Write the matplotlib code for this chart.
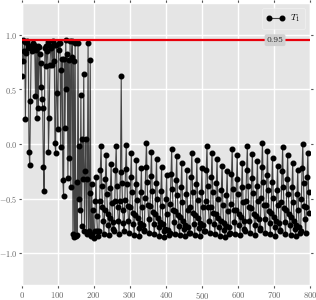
import numpy as np
import matplotlib
matplotlib.use("Agg")
import matplotlib.pyplot as plt
from matplotlib.ticker import FuncFormatter

# ---- data ----
early_values = [
    0.62, 0.95, 0.76, 0.85, 0.93, 0.23, 0.83, 0.94, 0.88, 0.91,
    -0.07, -0.19, 0.39, 0.89, 0.85, 0.92, 0.90, 0.91, 0.87, 0.44,
    0.86, 0.24, 0.90, 0.33, 0.89, 0.82, 0.52, 0.74, 0.41, 0.33,
    -0.21, -0.43, 0.88, 0.90, 0.71, 0.85, 0.93, -0.07, 0.24, 0.72,
    0.88, 0.90, 0.72, 0.94, 0.76, 0.91, 0.01, -0.08, 0.91, 0.47,
    0.14, 0.92, 0.86, 0.92, -0.03, 0.68, 0.78, -0.33, -0.48, 0.78,
    0.15, 0.95, 0.50, 0.82, -0.31, 0.77, -0.13, 0.94, -0.39, 0.80,
    0.94, -0.82, 0.76, -0.85, 0.92, -0.84, -0.35, -0.83, 0.92, -0.50,
    -0.015, -0.60, 0.45, -0.75, 0.05, -0.32, 0.64, -0.80, -0.25, 0.05,
    -0.82, -0.32, 0.92, -0.80, -0.45, 0.77, -0.84, -0.37, -0.82, -0.60,
]

late_values = [
    -0.86, -0.80, -0.52, -0.30, -0.66, -0.80, -0.84,
    -0.80, -0.52, -0.24, -0.02, -0.38, -0.58, -0.70,
    -0.82, -0.60, -0.32, -0.10, -0.46, -0.64, -0.74,
    -0.83, -0.68, -0.40, -0.18, -0.54, -0.71, -0.78,
    -0.80, -0.52, -0.24, -0.02, -0.38, -0.58, -0.70,
    -0.82, -0.52, -0.26, 0.62, -0.36, -0.60, -0.72,
    -0.80, -0.51, -0.23, -0.01, -0.37, -0.57, -0.70,
    -0.81, -0.58, -0.30, -0.08, -0.44, -0.63, -0.73,
    -0.83, -0.65, -0.37, -0.15, -0.51, -0.68, -0.77,
    -0.84, -0.72, -0.44, -0.22, -0.58, -0.74, -0.80,
    -0.79, -0.49, -0.21, 0.01, -0.35, -0.56, -0.69,
    -0.81, -0.57, -0.29, -0.07, -0.43, -0.62, -0.73,
    -0.82, -0.64, -0.36, -0.14, -0.50, -0.68, -0.76,
    -0.84, -0.71, -0.43, -0.21, -0.57, -0.73, -0.80,
    -0.85, -0.78, -0.50, -0.28, -0.64, -0.79, -0.83,
    -0.81, -0.55, -0.27, -0.045, -0.41, -0.60, -0.71,
    -0.82, -0.61, -0.33, -0.11, -0.47, -0.65, -0.75,
    -0.83, -0.67, -0.39, -0.17, -0.53, -0.70, -0.78,
    -0.84, -0.74, -0.46, -0.24, -0.60, -0.76, -0.81,
    -0.81, -0.58, -0.30, -0.08, -0.44, -0.63, -0.73,
    -0.83, -0.65, -0.37, -0.15, -0.51, -0.68, -0.77,
    -0.84, -0.72, -0.44, -0.22, -0.58, -0.74, -0.80,
    -0.80, -0.52, -0.24, -0.015, -0.38, -0.58, -0.70,
    -0.81, -0.58, -0.30, -0.08, -0.44, -0.63, -0.73,
    -0.82, -0.64, -0.36, -0.14, -0.50, -0.68, -0.76,
    -0.84, -0.70, -0.42, -0.20, -0.56, -0.72, -0.79,
    -0.85, -0.75, -0.47, -0.25, -0.61, -0.76, -0.82,
    -0.81, -0.55, -0.27, -0.045, -0.41, -0.60, -0.71,
    -0.82, -0.60, -0.32, -0.10, -0.46, -0.64, -0.74,
    -0.83, -0.67, -0.39, -0.17, -0.53, -0.70, -0.78,
    -0.80, -0.52, -0.24, -0.02, -0.38, -0.58, -0.70,
    -0.81, -0.59, -0.31, -0.09, -0.45, -0.64, -0.74,
    -0.83, -0.66, -0.38, -0.16, -0.52, -0.69, -0.77,
    -0.79, -0.49, -0.21, 0.01, -0.35, -0.56, -0.69,
    -0.81, -0.56, -0.28, -0.06, -0.42, -0.61, -0.72,
    -0.82, -0.63, -0.35, -0.13, -0.49, -0.67, -0.76,
    -0.84, -0.70, -0.42, -0.20, -0.56, -0.72, -0.79,
    -0.80, -0.53, -0.25, -0.03, -0.39, -0.59, -0.71,
    -0.82, -0.60, -0.32, -0.10, -0.46, -0.64, -0.74,
    -0.83, -0.67, -0.39, -0.17, -0.53, -0.70, -0.78,
    -0.84, -0.74, -0.46, -0.24, -0.60, -0.76, -0.81,
    -0.80, -0.50, -0.22, -0.003, -0.36, -0.57, -0.69,
    -0.81, -0.58, -0.30, -0.08, -0.44, -0.63,
]

step_size = 2
threshold = 0.95
threshold_label = "0.95"
series_label = r"$T_1$"
x_ticks = [0, 100, 200, 300, 400, 500, 600, 700, 800]
y_ticks = [-1.0, -0.5, 0.0, 0.5, 1.0]

values = np.array(early_values + late_values)
steps = np.arange(len(values)) * step_size

# ---- style ----
plt.style.use("ggplot")
plt.rcParams["mathtext.fontset"] = "cm"
plt.rcParams["font.family"] = ["DejaVu Serif"]

fig = plt.figure(figsize=(3.16, 3.0), dpi=100)
ax = fig.add_axes([0.069, 0.05, 0.912, 0.94])

ax.plot(steps, values, "-o", color=(0, 0, 0, 0.7), lw=0.8,
        ms=3.3, mfc="black", mec="black", label=series_label, zorder=3)
ax.axhline(threshold, color="#e8000b", lw=1.6, zorder=4)
ax.text(703, threshold, threshold_label, fontsize=5.5, ha="center",
        va="center", color="#333333", zorder=5,
        bbox=dict(boxstyle="round,pad=0.25", fc="#d0d0d0", ec="none"))

ax.set_xlim(0, 800)
ax.set_ylim(-1.29, 1.29)
ax.set_xticks(x_ticks)
ax.set_yticks(y_ticks)
ax.xaxis.set_major_formatter(FuncFormatter(lambda v, p: f"${v:g}$"))
ax.yaxis.set_major_formatter(FuncFormatter(lambda v, p: "$%.1f$" % v))
ax.tick_params(axis="both", colors="#555555", labelcolor="#666666",
               direction="out", length=2, top=True, right=True, pad=1.5)
ax.tick_params(axis="x", labelsize=6.3)
ax.tick_params(axis="y", labelsize=5.9, pad=1.2)
ax.grid(True, color="white", lw=1.0)

leg = ax.legend(loc="upper right", fontsize=6.5, frameon=True, numpoints=2,
                handlelength=2.0, borderpad=0.5, handletextpad=0.6,
                borderaxespad=0.6)
leg.get_frame().set_facecolor("#e5e5e5")
leg.get_frame().set_edgecolor("#f4f4f4")

fig.savefig("out.png", dpi=100)
